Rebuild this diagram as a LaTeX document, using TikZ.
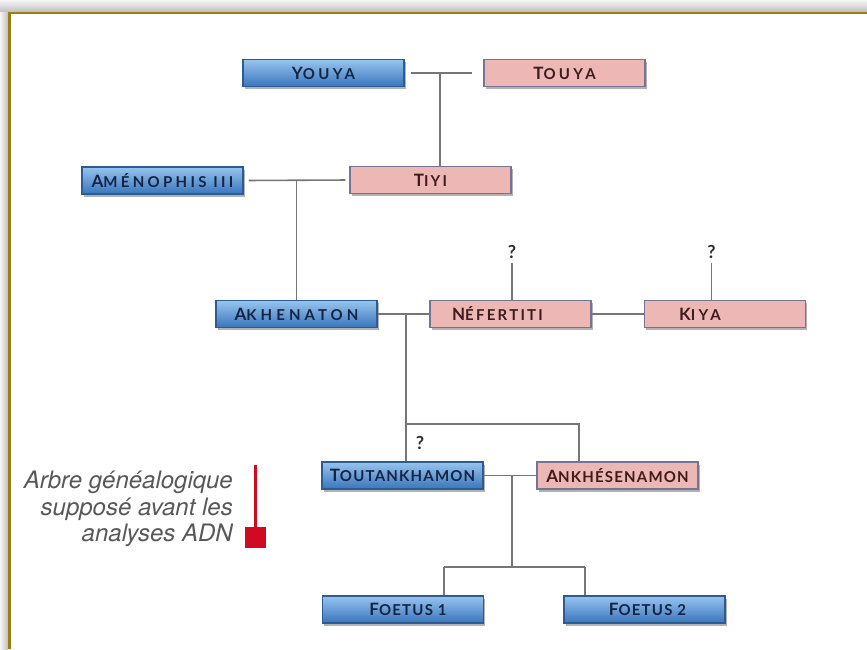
\documentclass[tikz,border=0pt]{standalone}
\usepackage{fontspec}
\setmainfont{Liberation Sans}
\newfontfamily\boxfontx{Lato}[LetterSpace=27]
\newfontfamily\boxfontw{Lato}[LetterSpace=22]
\newfontfamily\boxfontm{Lato}[LetterSpace=15]
\newfontfamily\boxfontn{Lato}[LetterSpace=8]
\newfontfamily\notefont{TeX Gyre Heros}
\usetikzlibrary{shadows,calc}
\definecolor{maletop}{RGB}{150,196,238}
\definecolor{malebot}{RGB}{58,118,188}
\definecolor{maleborder}{RGB}{45,92,148}
\definecolor{maletext}{RGB}{22,36,68}
\definecolor{femfill}{RGB}{236,183,180}
\definecolor{femborder}{RGB}{118,116,148}
\definecolor{femtext}{RGB}{62,28,30}
\definecolor{linkgray}{RGB}{118,118,118}
\definecolor{qtext}{RGB}{45,45,45}
\definecolor{notegray}{RGB}{88,88,88}
\definecolor{markred}{RGB}{208,10,35}
\definecolor{framegold}{RGB}{155,125,20}
\newcommand\capsc[2]{{\fontsize{17}{17}\selectfont #1}{\fontsize{15}{15}\selectfont #2}}
\tikzset{
  person/.style={minimum width=161pt, minimum height=27pt, inner sep=0pt, line width=1.2pt,
    drop shadow={shadow xshift=1.5pt, shadow yshift=-2.5pt, opacity=0.3, fill=black},
    font=\boxfontw\bfseries},
  male/.style={person, draw=maleborder, top color=maletop, bottom color=malebot, text=maletext},
  female/.style={person, draw=femborder, fill=femfill, text=femtext},
  widespace/.style={font=\boxfontx\bfseries},
  midspace/.style={font=\boxfontm\bfseries},
  narrowspace/.style={font=\boxfontn\bfseries},
  link/.style={draw=linkgray, line width=1.6pt},
  qmark/.style={font=\boxfontn\bfseries\fontsize{18}{18}\selectfont, text=qtext, inner sep=0pt},
  note/.style={font=\notefont\itshape\fontsize{24}{26.5}\selectfont, text=notegray, inner sep=0pt, align=right},
}
\begin{document}
\begin{tikzpicture}[x=1pt,y=-1pt]
\useasboundingbox (0,0) rectangle (867,649);
\fill[white] (0,0) rectangle (867,649);
\shade[top color=gray!8, bottom color=gray!50] (0,0) rectangle (867,12);
\shade[left color=gray!8, right color=gray!50] (0,12) rectangle (8,649);
\draw[framegold, line width=2.6pt] (9.5,649) -- (9.5,13) -- (867,13);

% persons
\node[male]   (youya)        at (323.5,73)  {\capsc{Y}{OUYA}};
\node[female] (touya)        at (564.5,73)  {\capsc{T}{OUYA}};
\node[male]   (amenophis)    at (162.5,180.5) {\capsc{A}{MÉNOPHIS III}};
\node[female, midspace] (tiyi) at (430.5,180) {\capsc{T}{IYI}};
\node[male, widespace] (akhenaton) at (296.5,314) {\capsc{A}{KHENATON}};
\node[female, midspace] (nefertiti) at (510.5,314) {\capsc{N}{ÉFERTITI}\hspace*{26pt}};
\node[female] (kiya)         at (725,314)   {\capsc{K}{IYA}\hspace*{50pt}};
\node[male, narrowspace]   (toutankhamon) at (402.5,475.5) {\capsc{T}{OUTANKHAMON}};
\node[female, narrowspace] (ankhesenamon) at (617.5,475.5) {\capsc{A}{NKHÉSENAMON}};
\node[male, narrowspace]   (foetus1)      at (403,609.5) {\hspace*{10pt}\capsc{F}{OETUS 1}};
\node[male, narrowspace]   (foetus2)      at (644.5,609.5) {\hspace*{6pt}\capsc{F}{OETUS 2}};

% question marks
\node[qmark] (q1) at (512,252) {?};
\node[qmark] (q2) at (711.5,252) {?};
\node[qmark] (q3) at (420,443) {?};

% connectors
\coordinate (yt) at (440,73);
\draw[link, shorten <=6pt, shorten >=11pt] (youya.east) -- (touya.west);
\draw[link] (yt) -- (yt |- tiyi.north);

\draw[link, shorten <=5pt, shorten >=4pt] (amenophis.east) -- (tiyi.west);
\draw[link] (akhenaton.north |- amenophis.east) -- (akhenaton.north);

\draw[link] (akhenaton.east) -- (nefertiti.west);
\draw[link] (nefertiti.east) -- (kiya.west);
\draw[link, shorten <=4pt] (q1.south) -- (q1.south |- nefertiti.north);
\draw[link, shorten <=4pt] (q2.south) -- (q2.south |- kiya.north);

\coordinate (an) at (406,314);
\coordinate (sibr) at (579,424);
\draw[link] (an) -- (an |- toutankhamon.north);
\draw[link] (an |- sibr) -- (sibr) -- (sibr |- ankhesenamon.north);

\draw[link] (toutankhamon.east) -- (ankhesenamon.west);
\coordinate (ta) at (512,475.5);
\coordinate (fl) at (444,567);
\coordinate (fr) at (585,567);
\draw[link] (ta) -- (ta |- fl);
\draw[link] (fl) -- (fr);
\draw[link] (fl) -- (fl |- foetus1.north);
\draw[link] (fr) -- (fr |- foetus2.north);

% note
\node[note, anchor=north east] (note) at (233,471) {Arbre généalogique\\supposé avant les\\analyses ADN};
\node[fill=markred, minimum size=21pt, inner sep=0pt] (mk) at (255.5,537.5) {};
\coordinate (mktop) at (255.5,465);
\draw[markred, line width=3.2pt] (mktop) -- (mk.north);
\end{tikzpicture}
\end{document}
